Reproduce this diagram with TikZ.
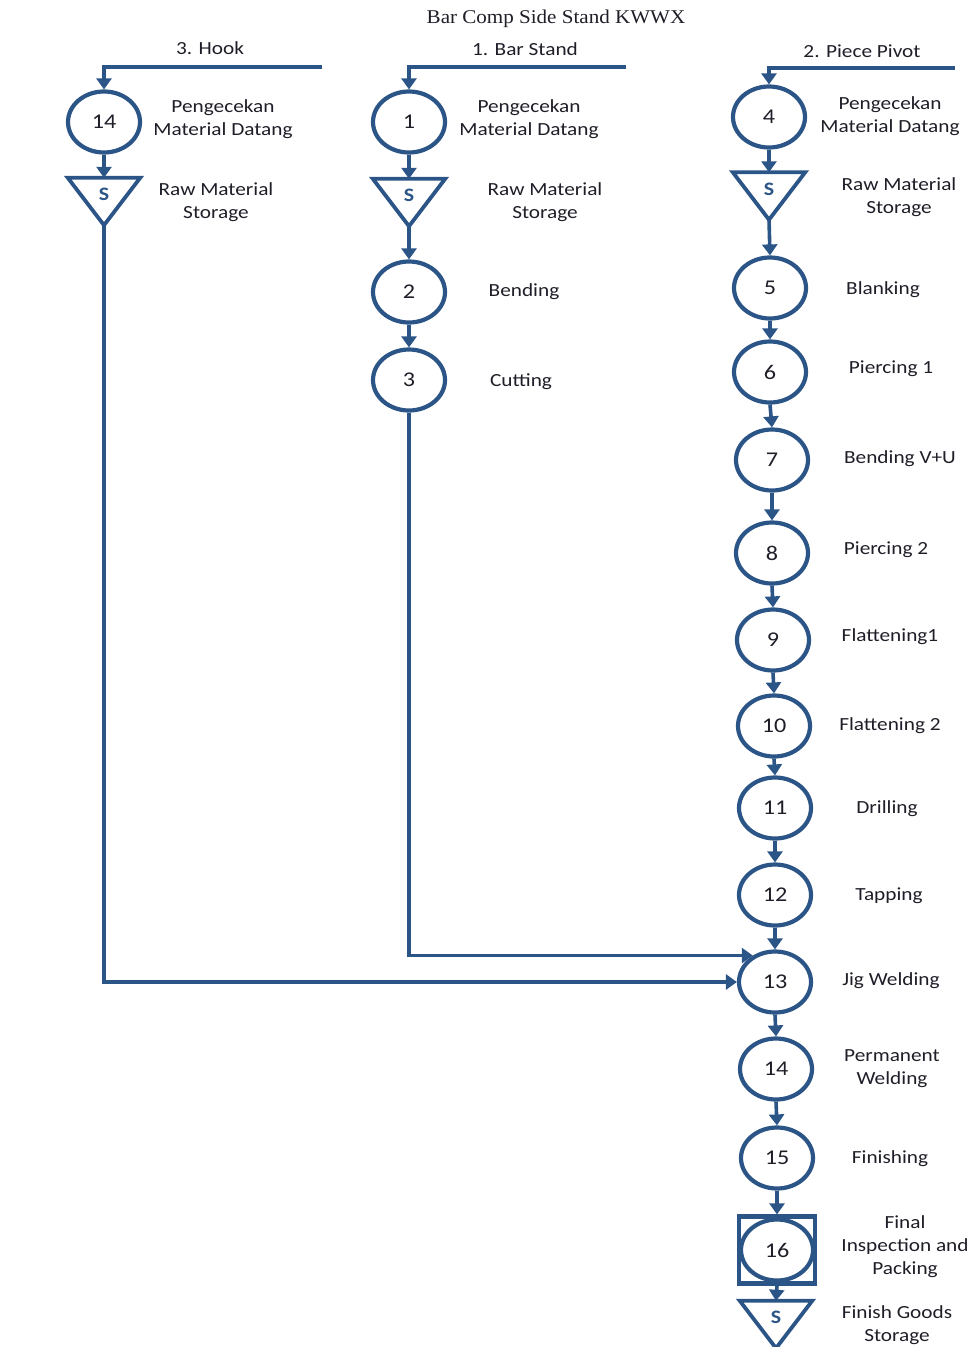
\documentclass[tikz,border=0pt]{standalone}
\usepackage{fontspec}
\usetikzlibrary{shapes.geometric,arrows.meta}
\newfontfamily\lblfont[FakeStretch=1.15]{Carlito}
\newfontfamily\ttlfont[FakeStretch=1.08]{Liberation Serif}
\definecolor{fb}{HTML}{2B5487}
\definecolor{tx}{HTML}{1E1E28}
\begin{document}
\begin{tikzpicture}[x=1pt,y=-1pt,
 proc/.style={ellipse, draw=fb, line width=4.2pt, minimum width=72pt, minimum height=61pt, inner sep=0pt, font=\lblfont\fontsize{21}{23}\selectfont, text=tx},
 store/.style={rectangle, minimum width=72pt, minimum height=47pt, inner sep=0pt},
 tri/.style={draw=fb, line width=3.8pt, line join=miter},
 stxt/.style={font=\lblfont\bfseries\fontsize{19}{21}\selectfont, text=fb, inner sep=0pt},
 lbl/.style={font=\lblfont\fontsize{18.5}{23}\selectfont, text=tx, align=center, inner sep=0pt},
 flow/.style={draw=fb, line width=3.6pt, -{Triangle[width=15pt,length=11pt]}},
]
\useasboundingbox (0,0) rectangle (973,1347);

% title and headers
\node[font=\ttlfont\fontsize{19.5}{21}\selectfont, text=tx] (title) at (556,19) {Bar Comp Side Stand KWWX};
\node[lbl] (hdA) at (210,48) {3. Hook};
\node[lbl] (hdB) at (525,49) {1. Bar Stand};
\node[lbl] (hdC) at (862,51) {2. Piece Pivot};
\coordinate (inA) at (322,67);
\coordinate (inB) at (626,67);
\coordinate (inC) at (955,68);

% column A (Hook)
\node[proc] (a14) at (104,122) {14};
\node[store] (sA) at (104,201.5) {};
\draw[tri] (sA.north west) -- (sA.north east) -- (sA.south) -- cycle;
\node[stxt] (sAt) at ([yshift=-17pt]sA.north) {S};
\node[lbl] (la1) at (223,119) {Pengecekan\\Material Datang};
\node[lbl] (la2) at (216,202) {Raw Material\\Storage};

% column B (Bar Stand)
\node[proc] (b1) at (409,122) {1};
\node[store] (sB) at (409,202.5) {};
\draw[tri] (sB.north west) -- (sB.north east) -- (sB.south) -- cycle;
\node[stxt] (sBt) at ([yshift=-17pt]sB.north) {S};
\node[proc] (b2) at (409,292) {2};
\node[proc] (b3) at (409,380) {3};
\node[lbl] (lb1) at (529,119) {Pengecekan\\Material Datang};
\node[lbl] (lb2) at (545,202) {Raw Material\\Storage};
\node[lbl] (lb3) at (524,292) {Bending};
\node[lbl] (lb4) at (521,382) {Cutting};

% column C (Piece Pivot)
\node[proc] (c4) at (769,117) {4};
\node[store] (sC) at (769,196) {};
\draw[tri] (sC.north west) -- (sC.north east) -- (sC.south) -- cycle;
\node[stxt] (sCt) at ([yshift=-17pt]sC.north) {S};
\node[proc] (c5) at (770,288) {5};
\node[proc] (c6) at (770,372) {6};
\node[proc] (c7) at (772,460) {7};
\node[proc] (c8) at (772,553) {8};
\node[proc] (c9) at (773,640) {9};
\node[proc] (c10) at (774,726) {10};
\node[proc] (c11) at (775,808) {11};
\node[proc] (c12) at (775,895) {12};
\node[proc] (c13) at (775,982) {13};
\node[proc] (c14) at (776,1069) {14};
\node[proc] (c15) at (777,1158) {15};
\node[draw=fb, line width=4.2pt, minimum width=76pt, minimum height=67pt, inner sep=0pt] (q16) at (777,1250) {};
\node[proc] (c16) at (777,1250) {16};
\node[store] (sD) at (776,1324.5) {};
\draw[tri] (sD.north west) -- (sD.north east) -- (sD.south) -- cycle;
\node[stxt] (sDt) at ([yshift=-17pt]sD.north) {S};

\node[lbl] (lc1) at (890,116) {Pengecekan\\Material Datang};
\node[lbl] (lc2) at (899,197) {Raw Material\\Storage};
\node[lbl] (lc3) at (883,290) {Blanking};
\node[lbl] (lc4) at (891,369) {Piercing 1};
\node[lbl] (lc5) at (900,459) {Bending V+U};
\node[lbl] (lc6) at (886,550) {Piercing 2};
\node[lbl] (lc7) at (890,637) {Flattening1};
\node[lbl] (lc8) at (890,726) {Flattening 2};
\node[lbl] (lc9) at (887,809) {Drilling};
\node[lbl] (lc10) at (889,896) {Tapping};
\node[lbl] (lc11) at (891,981) {Jig Welding};
\node[lbl] (lc12) at (892,1069) {Permanent\\Welding};
\node[lbl] (lc13) at (890,1159) {Finishing};
\node[lbl] (lc14) at (905,1247) {Final\\Inspection and\\Packing};
\node[lbl] (lc15) at (897,1325) {Finish Goods\\Storage};

% connectors
\draw[flow] (inA) -| (a14.north);
\draw[flow] (a14.south) -- (sA.north);
\draw[flow] (sA.south) |- (c13.west);

\draw[flow] (inB) -| (b1.north);
\draw[flow] (b1.south) -- (sB.north);
\draw[flow] (sB.south) -- (b2.north);
\draw[flow] (b2.south) -- (b3.north);
\draw[flow] (b3.south) |- (c13.130);

\draw[flow] (inC) -| (c4.north);
\draw[flow] (c4.south) -- (sC.north);
\draw[flow] (sC.south) -- (c5.north);
\draw[flow] (c5.south) -- (c6.north);
\draw[flow] (c6.south) -- (c7.north);
\draw[flow] (c7.south) -- (c8.north);
\draw[flow] (c8.south) -- (c9.north);
\draw[flow] (c9.south) -- (c10.north);
\draw[flow] (c10.south) -- (c11.north);
\draw[flow] (c11.south) -- (c12.north);
\draw[flow] (c12.south) -- (c13.north);
\draw[flow] (c13.south) -- (c14.north);
\draw[flow] (c14.south) -- (c15.north);
\draw[flow] (c15.south) -- (q16.north);
\draw[flow] (q16.south) -- (sD.north);
\end{tikzpicture}
\end{document}
